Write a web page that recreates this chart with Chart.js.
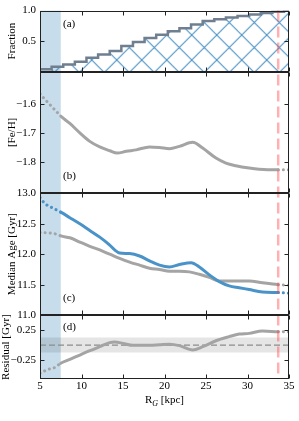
<!DOCTYPE html>
<html><head><meta charset="utf-8">
<script src="https://cdn.jsdelivr.net/npm/chart.js@4/dist/chart.umd.min.js"></script>
<style>html,body{margin:0;padding:0;background:#fff}canvas{display:block}</style>
</head><body>
<canvas id="c" width="299" height="421"></canvas>
<script>
// ---------- data ----------
const xTicks = [5, 10, 15, 20, 25, 30, 35];
const yTicksFrac = [0.5, 1.0];
const yTicksFeH = [-1.6, -1.7, -1.8];
const yTicksAge = [11.0, 11.5, 12.0, 12.5, 13.0];
const yTicksRes = [0.25, -0.25];

const fracEdges = [5, 6.4, 7.8, 9.2, 10.6, 12, 13.4, 14.8, 16.2, 17.6, 19, 20.4, 21.8, 23.2, 24.6, 26, 27.4, 28.8, 30.2, 31.6, 33, 34.4, 35];
const fracVals  = [0.036, 0.078, 0.117, 0.16, 0.224, 0.28, 0.338, 0.42, 0.485, 0.55, 0.605, 0.66, 0.71, 0.77, 0.83, 0.86, 0.885, 0.91, 0.935, 0.96, 0.98, 1.0];

const fehR    = [5, 5.6, 6.2, 6.9, 7.5, 8.6, 9.8, 11, 12.2, 13.4, 14.3, 15.4, 16.6, 18.2, 19.4, 20.6, 21.8, 23.4, 24.6, 26.2, 27.4, 28.6, 30.2, 31.4, 33.7, 35];
const fehVals = [-1.566, -1.585, -1.603, -1.624, -1.642, -1.667, -1.699, -1.728, -1.747, -1.760, -1.768, -1.762, -1.757, -1.747, -1.749, -1.753, -1.745, -1.731, -1.751, -1.785, -1.802, -1.811, -1.819, -1.823, -1.825, -1.825];

const ageBlueR    = [5, 5.6, 6.3, 7.5, 8.6, 9.8, 11, 12.2, 13.4, 14, 14.6, 15.8, 17, 18.2, 19.4, 20.6, 21.8, 23.2, 24.2, 25.4, 26.6, 27.8, 29, 30.2, 31.8, 33.7, 35];
const ageBlueVals = [12.93, 12.83, 12.775, 12.69, 12.60, 12.50, 12.39, 12.28, 12.15, 12.07, 12.02, 12.01, 11.97, 11.89, 11.82, 11.79, 11.83, 11.86, 11.79, 11.66, 11.55, 11.48, 11.45, 11.42, 11.38, 11.37, 11.36];

const ageGrayR    = [5, 6, 7.2, 7.5, 8.6, 9.8, 11, 12.2, 13.4, 14.6, 15.8, 17, 18.2, 19.4, 20.6, 21.8, 23, 24.2, 25.4, 26.6, 27.8, 29, 30.2, 31.8, 33.7, 35];
const ageGrayVals = [12.355, 12.35, 12.32, 12.30, 12.27, 12.20, 12.13, 12.07, 12.0, 11.93, 11.87, 11.82, 11.77, 11.75, 11.72, 11.72, 11.71, 11.67, 11.62, 11.56, 11.56, 11.56, 11.56, 11.53, 11.50, 11.49];

const resR    = [5, 6, 6.7, 7.5, 8.6, 9.8, 11, 12.2, 13.4, 14, 15, 16.2, 18.2, 19.4, 20.6, 21.8, 23.4, 24.6, 26.2, 27.8, 29, 30.2, 31.8, 33.7, 35];
const resVals = [-0.47, -0.405, -0.38, -0.305, -0.24, -0.167, -0.095, -0.028, 0.04, 0.05, 0.028, -0.005, -0.005, 0.005, 0.015, -0.01, -0.083, -0.028, 0.072, 0.14, 0.183, 0.195, 0.233, 0.222, 0.22];

const shadeRange = [5, 7.5];     // shaded inner region
const outerR = 33.7;             // dashed red vertical line
const resBand = 0.125;           // grey band half width

// ---------- helpers ----------
const SERIF = '"Liberation Serif", "DejaVu Serif", serif';
const FS = 11;
const font = {family: SERIF, size: FS};
const pts = (xs, ys) => xs.map((x, i) => ({x, y: ys[i]}));
const minus = s => s.replace('-', '\u2212');
const fracPts = fracVals.map((v, i) => ({x: fracEdges[i], y: v}));
fracPts.push({x: fracEdges[fracEdges.length - 1], y: fracVals[fracVals.length - 1]});

// hatch pattern
const tile = document.createElement('canvas');
const S = 25;
tile.width = S; tile.height = S;
const tc = tile.getContext('2d');
tc.strokeStyle = 'rgba(31,119,180,0.8)';
tc.lineWidth = 1.1;
tc.beginPath();
tc.moveTo(-2, -2); tc.lineTo(S + 2, S + 2);
tc.moveTo(S + 2, -2); tc.lineTo(-2, S + 2);
tc.stroke();
const hatch = document.getElementById('c').getContext('2d').createPattern(tile, 'repeat');
try { hatch.setTransform(new DOMMatrix([1, 0, 0, 1, 16.7, 10])); } catch (e) {}

const dotSeg = {
  borderDash: ctx => (ctx.p0.parsed.x < shadeRange[1] - 1e-6 || ctx.p0.parsed.x >= outerR - 1e-6) ? [0.1, 5] : undefined
};
const GRAY = '#a4a4a4';
const BLUE = '#4a93c8';
const lineDs = (data, color, axis, order) => ({
  data, yAxisID: axis, borderColor: color, borderWidth: 3, pointRadius: 0,
  borderCapStyle: 'round', cubicInterpolationMode: 'monotone', fill: false,
  segment: dotSeg, order
});

function yAxis(ticks, min, max, weight, sw, title, titlePad, fmt) {
  return {
    type: 'linear', position: 'left', stack: 'p', stackWeight: sw, weight,
    min, max,
    grid: {display: false, drawTicks: false}, border: {display: false},
    ticks: {font, color: '#000', padding: 4, autoSkip: false, callback: v => minus(fmt(v))},
    afterBuildTicks: s => { s.ticks = ticks.map(v => ({value: v})); },
    afterFit: s => { s.width = 40; },
    title: {display: true, text: title, font, color: '#000', padding: {top: titlePad, bottom: 0}}
  };
}

const panelPlugin = {
  id: 'panels',
  beforeDatasetsDraw(chart) {
    const {ctx, chartArea: a, scales: {x}} = chart;
    ctx.save();
    ctx.fillStyle = 'rgba(31,119,180,0.25)';
    const x0 = x.getPixelForValue(shadeRange[0]), x1 = x.getPixelForValue(shadeRange[1]);
    ctx.fillRect(x0, a.top, x1 - x0, a.bottom - a.top);
    ctx.restore();
  },
  afterDatasetsDraw(chart) {
    const {ctx, chartArea: a, scales} = chart;
    const x = scales.x;
    ctx.save();
    // red dashed line
    ctx.strokeStyle = 'rgba(255,60,60,0.4)';
    ctx.lineWidth = 2.5;
    ctx.setLineDash([11, 5]);
    const xr = x.getPixelForValue(outerR);
    ctx.beginPath(); ctx.moveTo(xr, a.top); ctx.lineTo(xr, a.bottom); ctx.stroke();
    ctx.setLineDash([]);
    // panel boxes & ticks
    ctx.strokeStyle = '#222';
    ctx.lineWidth = 1;
    const L = Math.round(a.left) + 0.5, R = Math.round(a.right) - 0.5;
    const TL = 4;
    ['yA', 'yB', 'yC', 'yD'].forEach(id => {
      const s = scales[id];
      const T = Math.round(s.top) + 0.5, B = Math.round(s.bottom) - 0.5;
      ctx.strokeRect(L, T, R - L, B - T);
      ctx.beginPath();
      s.ticks.forEach(t => {
        const y = Math.round(s.getPixelForValue(t.value)) + 0.5;
        ctx.moveTo(L, y); ctx.lineTo(L + TL, y);
        ctx.moveTo(R, y); ctx.lineTo(R - TL, y);
      });
      xTicks.forEach(v => {
        const px = Math.round(x.getPixelForValue(v)) + 0.5;
        ctx.moveTo(px, T); ctx.lineTo(px, T + TL);
        ctx.moveTo(px, B); ctx.lineTo(px, B - TL);
      });
      ctx.stroke();
    });
    // panel labels
    ctx.fillStyle = '#000';
    ctx.font = FS + 'px ' + SERIF;
    ctx.textBaseline = 'middle';
    ctx.textAlign = 'left';
    const lx = a.left + 23;
    ctx.fillText('(a)', lx, scales.yA.top + 14);
    ctx.fillText('(b)', lx, scales.yB.bottom - 17);
    ctx.fillText('(c)', lx, scales.yC.bottom - 17);
    ctx.fillText('(d)', lx, scales.yD.top + 12);
    // x title R_G [kpc]
    ctx.textBaseline = 'alphabetic';
    const big = FS + 'px ' + SERIF, small = 'italic 8px ' + SERIF;
    ctx.font = big; const wR = ctx.measureText('R').width; const wK = ctx.measureText(' [kpc]').width;
    ctx.font = small; const wG = ctx.measureText('G').width;
    let cx = (a.left + a.right) / 2 - (wR + wG + wK) / 2;
    const by = a.bottom + 24;
    ctx.font = big; ctx.fillText('R', cx, by); cx += wR;
    ctx.font = small; ctx.fillText('G', cx, by + 2.5); cx += wG;
    ctx.font = big; ctx.fillText(' [kpc]', cx, by);
    ctx.restore();
  }
};

new Chart(document.getElementById('c'), {
  type: 'line',
  data: {
    datasets: [
      {data: fracPts, yAxisID: 'yA', stepped: true, borderColor: '#6f7f8f', borderWidth: 2.5,
       backgroundColor: hatch, fill: 'origin', pointRadius: 0, order: 5},
      lineDs(pts(fehR, fehVals), GRAY, 'yB', 5),
      lineDs(pts(ageBlueR, ageBlueVals), BLUE, 'yC', 1),
      lineDs(pts(ageGrayR, ageGrayVals), GRAY, 'yC', 2),
      {data: [{x: 5, y: resBand}, {x: 35, y: resBand}], yAxisID: 'yD', borderWidth: 0, pointRadius: 0,
       backgroundColor: 'rgba(0,0,0,0.1)', fill: {value: -resBand}, order: 10},
      {data: [{x: 5, y: 0}, {x: 35, y: 0}], yAxisID: 'yD', borderColor: '#8c8c8c', borderWidth: 1.3,
       borderDash: [6, 3], pointRadius: 0, fill: false, order: 9},
      lineDs(pts(resR, resVals), GRAY, 'yD', 1)
    ]
  },
  options: {
    responsive: false, animation: false, devicePixelRatio: 1,
    layout: {padding: {top: 10, right: 10, left: 0, bottom: 0}},
    plugins: {legend: {display: false}, tooltip: {enabled: false}},
    scales: {
      x: {
        type: 'linear', position: 'bottom', min: 5, max: 35,
        grid: {display: false, drawTicks: false}, border: {display: false},
        ticks: {font, color: '#000', padding: 1, autoSkip: false, maxRotation: 0},
        afterBuildTicks: s => { s.ticks = xTicks.map(v => ({value: v})); },
        afterFit: s => { s.height = 42; }
      },
      yA: yAxis(yTicksFrac, 0, 1.0, 4, 61, 'Fraction', 5.4, v => v.toFixed(1)),
      yB: yAxis(yTicksFeH, -1.905, -1.49, 3, 122, '[Fe/H]', 5.4, v => v.toFixed(1)),
      yC: yAxis(yTicksAge, 11.0, 13.0, 2, 122, 'Median Age [Gyr]', 5.4, v => v.toFixed(1)),
      yD: yAxis(yTicksRes, -0.567, 0.5, 1, 64, 'Residual [Gyr]', 0, v => v.toFixed(2))
    }
  },
  plugins: [panelPlugin]
});
</script>
</body></html>
